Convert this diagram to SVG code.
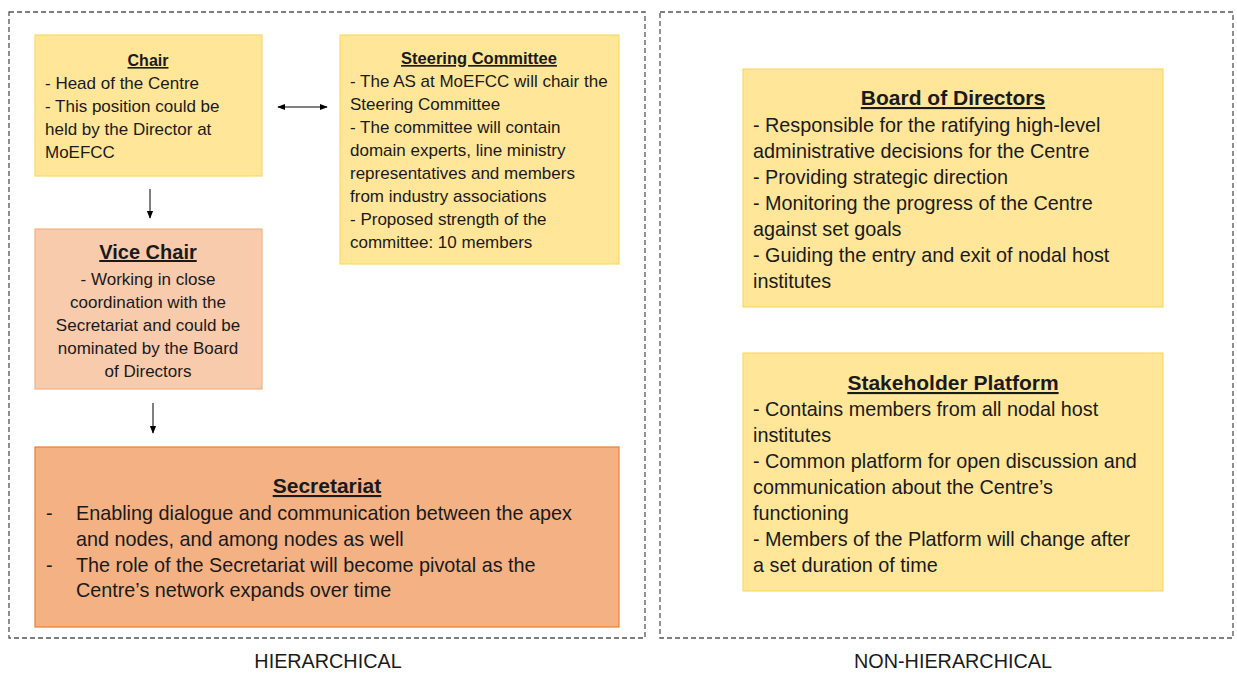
<svg xmlns="http://www.w3.org/2000/svg" width="1237" height="673" viewBox="0 0 1237 673">
  <style>
    text { font-family: "Liberation Sans", Arial, sans-serif; fill: #1a1a1a; }
    .frame { fill: none; stroke: #555; stroke-width: 1.3; stroke-dasharray: 5 3; }
    .gold { fill: #FFE699; stroke: #FFD966; stroke-width: 1.2; }
    .peach { fill: #F8CBAD; stroke: #F4B183; stroke-width: 1.2; }
    .orange { fill: #F4B183; stroke: #ED7D31; stroke-width: 1.2; }
    .ttl { font-weight: bold; text-decoration: underline; text-anchor: middle; }
    .s-sm { font-size: 17px; }
    .s-lg { font-size: 19.8px; }
    .lbl { font-size: 19.8px; text-anchor: middle; }
    .mid { text-anchor: middle; }
    .conn { stroke: #000; stroke-width: 1; fill: none; }
  </style>
  <defs>
    <marker id="head" viewBox="0 0 10 10" refX="9" refY="5" markerWidth="8" markerHeight="8" markerUnits="userSpaceOnUse" orient="auto-start-reverse">
      <path d="M0,1 L10,5 L0,9 Z" fill="#000"/>
    </marker>
  </defs>
  <rect width="1237" height="673" fill="#fff"/>

  <!-- section frames -->
  <g id="frames">
    <rect class="frame" x="9" y="12" width="636" height="626"/>
    <rect class="frame" x="660" y="12" width="573" height="626"/>
  </g>

  <g id="chair">
    <rect class="gold" x="35" y="35" width="227" height="141"/>
    <text class="ttl" x="148" y="66" style="font-size:16px">Chair</text>
    <text class="s-sm" x="45" y="89">- Head of the Centre</text>
    <text class="s-sm" x="45" y="112">- This position could be</text>
    <text class="s-sm" x="45" y="135">held by the Director at</text>
    <text class="s-sm" x="45" y="158">MoEFCC</text>
  </g>

  <g id="steering-committee">
    <rect class="gold" x="340" y="35" width="279" height="229"/>
    <text class="ttl" x="479" y="64" style="font-size:16.5px">Steering Committee</text>
    <text class="s-sm" x="350" y="87">- The AS at MoEFCC will chair the</text>
    <text class="s-sm" x="350" y="110">Steering Committee</text>
    <text class="s-sm" x="350" y="133">- The committee will contain</text>
    <text class="s-sm" x="350" y="156">domain experts, line ministry</text>
    <text class="s-sm" x="350" y="179">representatives and members</text>
    <text class="s-sm" x="350" y="202">from industry associations</text>
    <text class="s-sm" x="350" y="225">- Proposed strength of the</text>
    <text class="s-sm" x="350" y="248">committee: 10 members</text>
  </g>

  <g id="vice-chair">
    <rect class="peach" x="35" y="229" width="227" height="160"/>
    <text class="ttl" x="148" y="259" style="font-size:20px">Vice Chair</text>
    <text class="s-sm mid" x="148" y="285">- Working in close</text>
    <text class="s-sm mid" x="148" y="308">coordination with the</text>
    <text class="s-sm mid" x="148" y="331">Secretariat and could be</text>
    <text class="s-sm mid" x="148" y="354">nominated by the Board</text>
    <text class="s-sm mid" x="148" y="377">of Directors</text>
  </g>

  <g id="secretariat">
    <rect class="orange" x="35" y="447" width="584" height="180"/>
    <text class="ttl" x="327" y="493" style="font-size:21px">Secretariat</text>
    <text class="s-lg" x="46" y="520">-</text>
    <text class="s-lg" x="76" y="520">Enabling dialogue and communication between the apex</text>
    <text class="s-lg" x="76" y="546">and nodes, and among nodes as well</text>
    <text class="s-lg" x="46" y="572">-</text>
    <text class="s-lg" x="76" y="572">The role of the Secretariat will become pivotal as the</text>
    <text class="s-lg" x="76" y="597">Centre’s network expands over time</text>
  </g>

  <g id="board-of-directors">
    <rect class="gold" x="743" y="69" width="420" height="238"/>
    <text class="ttl" x="953" y="105" style="font-size:21px">Board of Directors</text>
    <text class="s-lg" x="753" y="132">- Responsible for the ratifying high-level</text>
    <text class="s-lg" x="753" y="158">administrative decisions for the Centre</text>
    <text class="s-lg" x="753" y="184">- Providing strategic direction</text>
    <text class="s-lg" x="753" y="210">- Monitoring the progress of the Centre</text>
    <text class="s-lg" x="753" y="236">against set goals</text>
    <text class="s-lg" x="753" y="262">- Guiding the entry and exit of nodal host</text>
    <text class="s-lg" x="753" y="288">institutes</text>
  </g>

  <g id="stakeholder-platform">
    <rect class="gold" x="743" y="353" width="420" height="238"/>
    <text class="ttl" x="953" y="390" style="font-size:21px">Stakeholder Platform</text>
    <text class="s-lg" x="753" y="416">- Contains members from all nodal host</text>
    <text class="s-lg" x="753" y="442">institutes</text>
    <text class="s-lg" x="753" y="468">- Common platform for open discussion and</text>
    <text class="s-lg" x="753" y="494">communication about the Centre’s</text>
    <text class="s-lg" x="753" y="520">functioning</text>
    <text class="s-lg" x="753" y="546">- Members of the Platform will change after</text>
    <text class="s-lg" x="753" y="572">a set duration of time</text>
  </g>

  <g id="connectors">
    <line class="conn" x1="278" y1="107" x2="327" y2="107" marker-start="url(#head)" marker-end="url(#head)"/>
    <line class="conn" x1="150" y1="189" x2="150" y2="218" marker-end="url(#head)"/>
    <line class="conn" x1="153" y1="403" x2="153" y2="433" marker-end="url(#head)"/>
  </g>

  <g id="section-labels">
    <text class="lbl" x="328" y="668">HIERARCHICAL</text>
    <text class="lbl" x="953" y="668">NON-HIERARCHICAL</text>
  </g>
</svg>
